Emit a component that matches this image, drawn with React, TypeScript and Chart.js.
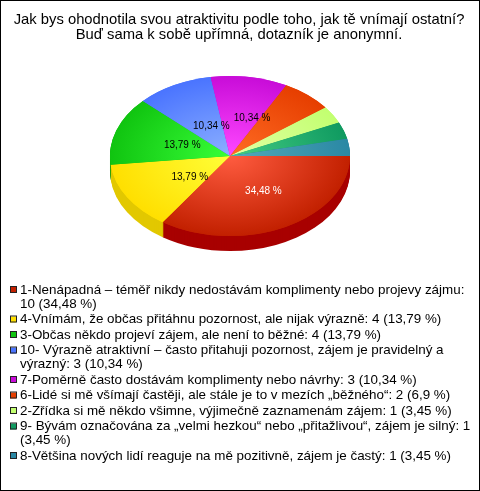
import React, { useEffect, useRef } from "react";
import { Chart, registerables } from "chart.js";

Chart.register(...registerables);

const FONT = "'Liberation Sans', Arial, sans-serif";
const titleLines = [
  "Jak bys ohodnotila svou atraktivitu podle toho, jak tě vnímají ostatní?",
  "Buď sama k sobě upřímná, dotazník je anonymní.",
];
const categories = [
  "1-Nenápadná – téměř nikdy nedostávám komplimenty nebo projevy zájmu: 10 (34,48 %)",
  "4-Vnímám, že občas přitáhnu pozornost, ale nijak výrazně: 4 (13,79 %)",
  "3-Občas někdo projeví zájem, ale není to běžné: 4 (13,79 %)",
  "10- Výrazně atraktivní – často přitahuji pozornost, zájem je pravidelný a výrazný: 3 (10,34 %)",
  "7-Poměrně často dostávám komplimenty nebo návrhy: 3 (10,34 %)",
  "6-Lidé si mě všímají častěji, ale stále je to v mezích „běžného“: 2 (6,9 %)",
  "2-Zřídka si mě někdo všimne, výjimečně zaznamenám zájem: 1 (3,45 %)",
  "9- Bývám označována za „velmi hezkou“ nebo „přitažlivou“, zájem je silný: 1 (3,45 %)",
  "8-Většina nových lidí reaguje na mě pozitivně, zájem je častý: 1 (3,45 %)",
];
const counts = [10, 4, 4, 3, 3, 2, 1, 1, 1];
const sliceLabels = ["34,48 %", "13,79 %", "13,79 %", "10,34 %", "10,34 %", "", "", "", ""];
const labelRadii = [0.47, 0.42, 0.42, 0.42, 0.52, 0, 0, 0, 0];
const labelNudgeX = [7, 3, 0, 5, 12, 0, 0, 0, 0];
const labelNudgeY = [2, 4, 0, 0, 3, 0, 0, 0, 0];
const labelColors = ["#ffffff", "#000000", "#000000", "#000000", "#000000", "", "", "", ""];
const edgeColors = ["#c22000", "#ffdf00", "#10c410", "#4a74ff", "#c80cd8", "#e63e00", "#c2ff70", "#0f9a60", "#2a88a4"];
const innerColors = ["#ff5c40", "#ffff38", "#38ff38", "#8cb0ff", "#ff48ff", "#ff6c24", "#e2ffa4", "#44cc84", "#54aaba"];
const sideColors = ["#a80000", "#e2c800", "#0c9c0c", "#3a5cc8", "#a008ac", "#b83000", "#9acc58", "#0c7a4c", "#206c84"];
const swatchColors = ["#c22000", "#ffdf00", "#10c410", "#4a74ff", "#c80cd8", "#e63e00", "#c2ff70", "#0f9a60", "#2a88a4"];

const SQUASH = 2 / 3;
const CENTER_Y = 156;
const DEPTH = 15;
const LEGEND_SIZE = 13.4;
const TITLE_SIZE = 14.8;

function applySquash(chart: any) {
  const { ctx, chartArea } = chart;
  const cy = (chartArea.top + chartArea.bottom) / 2;
  ctx.translate(0, CENTER_Y);
  ctx.scale(1, SQUASH);
  ctx.translate(0, -cy);
}

const flatPie = {
  id: "flatPie",
  beforeDatasetsDraw(chart: any) {
    const { ctx } = chart;
    const arcs = chart.getDatasetMeta(0).data;
    ctx.save();
    applySquash(chart);
    for (let d = DEPTH; d >= 0; d--) {
      arcs.forEach((a: any, i: number) => {
        ctx.fillStyle = d === 0 ? edgeColors[i] : sideColors[i];
        ctx.beginPath();
        ctx.moveTo(a.x, a.y + d / SQUASH);
        ctx.arc(a.x, a.y + d / SQUASH, a.outerRadius, a.startAngle, a.endAngle);
        ctx.closePath();
        ctx.fill();
      });
    }
  },
  afterDatasetsDraw(chart: any) {
    const { ctx } = chart;
    ctx.restore();
    const arcs = chart.getDatasetMeta(0).data;
    const cy = (chart.chartArea.top + chart.chartArea.bottom) / 2;
    ctx.save();
    ctx.font = "10px " + FONT;
    ctx.textAlign = "center";
    ctx.textBaseline = "middle";
    arcs.forEach((a: any, i: number) => {
      if (!sliceLabels[i]) return;
      const mid = (a.startAngle + a.endAngle) / 2;
      const r = a.outerRadius * labelRadii[i];
      const y = a.y + Math.sin(mid) * r;
      ctx.fillStyle = labelColors[i];
      ctx.fillText(
        sliceLabels[i],
        a.x + Math.cos(mid) * r + labelNudgeX[i],
        CENTER_Y + (y - cy) * SQUASH + labelNudgeY[i]
      );
    });
    ctx.restore();
  },
};

function wrap(ctx: any, text: string, maxWidth: number) {
  const lines: string[] = [];
  let line = "";
  text.split(" ").forEach((w) => {
    const next = line ? line + " " + w : w;
    if (ctx.measureText(next).width > maxWidth && line) {
      lines.push(line);
      line = w;
    } else line = next;
  });
  lines.push(line);
  return lines;
}

const textLayer = {
  id: "textLayer",
  afterDraw(chart: any) {
    const { ctx, width, height } = chart;
    ctx.save();
    ctx.fillStyle = "#000000";
    ctx.font = TITLE_SIZE + "px " + FONT;
    ctx.textBaseline = "middle";
    ctx.textAlign = "center";
    titleLines.forEach((t, i) => ctx.fillText(t, 239, 20 + i * 15));

    ctx.font = LEGEND_SIZE + "px " + FONT;
    ctx.textAlign = "left";
    let y = 290;
    chart.data.labels.forEach((label: string, i: number) => {
      ctx.fillStyle = swatchColors[i];
      ctx.fillRect(10, y - 3, 6, 6);
      ctx.strokeStyle = "#222222";
      ctx.lineWidth = 1;
      ctx.strokeRect(10.5, y - 3.5, 6, 6);
      ctx.fillStyle = "#000000";
      const lines = wrap(ctx, label, 453);
      lines.forEach((l, k) => {
        ctx.fillText(l, 20, y);
        if (k < lines.length - 1) y += 14;
      });
      y += 15.5;
    });
    ctx.strokeStyle = "#000000";
    ctx.lineWidth = 1;
    ctx.strokeRect(0.5, 0.5, width - 1, height - 1);
    ctx.restore();
  },
};

export default function App() {
  const ref = useRef<HTMLCanvasElement>(null);
  useEffect(() => {
    const chart = new Chart(ref.current as HTMLCanvasElement, {
      type: "pie",
      data: {
        labels: categories,
        datasets: [
          {
            data: counts,
            borderWidth: 0,
            backgroundColor: (c: any) => {
              const area = c.chart.chartArea;
              if (!area) return edgeColors[c.dataIndex];
              const cx = (area.left + area.right) / 2;
              const cy = (area.top + area.bottom) / 2;
              const g = c.chart.ctx.createRadialGradient(cx, cy, 0, cx, cy, 120);
              g.addColorStop(0, innerColors[c.dataIndex]);
              g.addColorStop(1, edgeColors[c.dataIndex]);
              return g;
            },
          },
        ],
      },
      options: {
        responsive: false,
        animation: false,
        rotation: 90,
        layout: { padding: { left: 110, right: 130, top: 36, bottom: 215 } },
        plugins: {
          legend: { display: false },
          tooltip: { enabled: false },
          title: { display: false },
        },
      },
      plugins: [flatPie, textLayer],
    } as any);
    return () => chart.destroy();
  }, []);
  return (
    <div style={{ position: "fixed", left: 0, top: 0, width: 480, height: 491, background: "#fff" }}>
      <canvas ref={ref} width={480} height={491} style={{ display: "block" }} />
    </div>
  );
}
